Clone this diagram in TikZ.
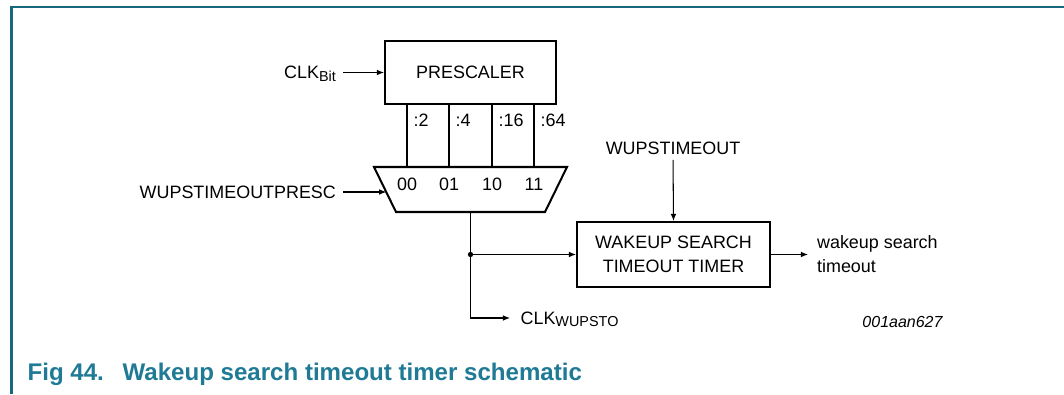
\documentclass[tikz,border=0pt]{standalone}
\usepackage{fontspec}
\setmainfont{Liberation Sans}
\usepackage{tikz}
\usetikzlibrary{arrows.meta,calc,positioning}
\definecolor{figteal}{HTML}{1F7A95}
\definecolor{frameteal}{HTML}{17677F}
\newcommand{\subtxt}[1]{\raisebox{-1.4pt}{\fontsize{8.2}{9}\selectfont #1}}

\begin{document}
\begin{tikzpicture}[>={Latex[length=4pt,width=3.2pt]},line join=miter,
  font=\fontsize{10.2}{13.6}\selectfont,
  blk/.style={draw,line width=1.15pt,inner sep=0pt,align=center},
  wire/.style={line width=.6pt},
  lbl/.style={inner sep=1pt},
  junc/.style={circle,fill,inner sep=0pt,minimum size=3pt}]
\path[use as bounding box] (0,0) rectangle (21.28,7.88);
\fill[white] (0,0) rectangle (21.28,7.88);
\draw[frameteal,line width=1.15pt] (0.23,0)--(0.23,7.74)--(21.28,7.74);

% prescaler and its four taps
\node[blk,minimum width=3.42cm,minimum height=1.26cm] (presc) at (9.41,6.43) {PRESCALER};
\node[lbl,anchor=base east] (clkbit) at (6.76,6.30) {CLK\subtxt{Bit}};
\draw[wire,->] ($(clkbit.east |- presc.west)+(0.1,0)$) -- (presc.west);

% selector
\coordinate (mtl) at (7.48,4.54);
\coordinate (mtr) at (11.34,4.54);
\coordinate (mbr) at (10.90,3.64);
\coordinate (mbl) at (7.92,3.64);
\draw[line width=1.15pt] (mtl)--(mtr)--(mbr)--(mbl)--cycle;
\foreach \x/\d/\s [count=\i] in {8.14/:2/00,8.98/:4/01,9.84/:16/10,10.68/:64/11} {
  \coordinate (tap\i) at (\x,4.54);
  \draw[wire] (tap\i |- presc.south) -- (tap\i);
  \node[lbl,anchor=west] (div\i) at (\x+0.09,5.48) {\d};
  \node[lbl] (sel\i) at (\x,4.20) {\s};
}
\node[lbl,anchor=base east] (prescsel) at (6.76,3.91) {WUPSTIMEOUTPRESC};
\coordinate (selin) at ($(mtl)!0.555!(mbl)$);
\draw[wire,->] ($(prescsel.east |- selin)+(0.1,0)$) -- (selin);
\coordinate (mout) at ($(mbl)!0.5!(mbr)$);

% timer
\node[blk,minimum width=3.86cm,minimum height=1.30cm] (timer) at (13.47,2.79) {WAKEUP SEARCH\\TIMEOUT TIMER};
\node[lbl] (wupto) at (13.46,4.92) {WUPSTIMEOUT};
\draw[wire,->,shorten <=2pt] (wupto.south) -- (timer.north);
\node[lbl,anchor=base west,align=left] (wsto) at (16.30,2.43) {wakeup search\\timeout};
\draw[wire,->] (timer.east) -- ($(timer.east)+(0.74,0)$);

% clock out
\coordinate (jn) at (mout |- timer.west);
\coordinate (wupend) at (10.20,1.52);
\draw[wire,->] (mout) |- (wupend);
\draw[wire,->] (jn) -- (timer.west);
\node[junc] (jdot) at (jn) {};
\node[lbl,anchor=base west] (clkwup) at ($(wupend)+(0.17,-0.13)$) {CLK\subtxt{WUPSTO}};

\node[lbl,font=\fontsize{9.1}{11}\selectfont\itshape] (tagid) at (18.05,1.44) {001aan627};

% caption
\node[lbl,anchor=base west,text=figteal,font=\fontsize{13.7}{15}\selectfont\bfseries] (capnum) at (0.51,0.27) {Fig 44.};
\node[lbl,anchor=base west,text=figteal,font=\fontsize{13.7}{15}\selectfont\bfseries] (captxt) at (2.41,0.27) {Wakeup search timeout timer schematic};
\end{tikzpicture}
\end{document}
